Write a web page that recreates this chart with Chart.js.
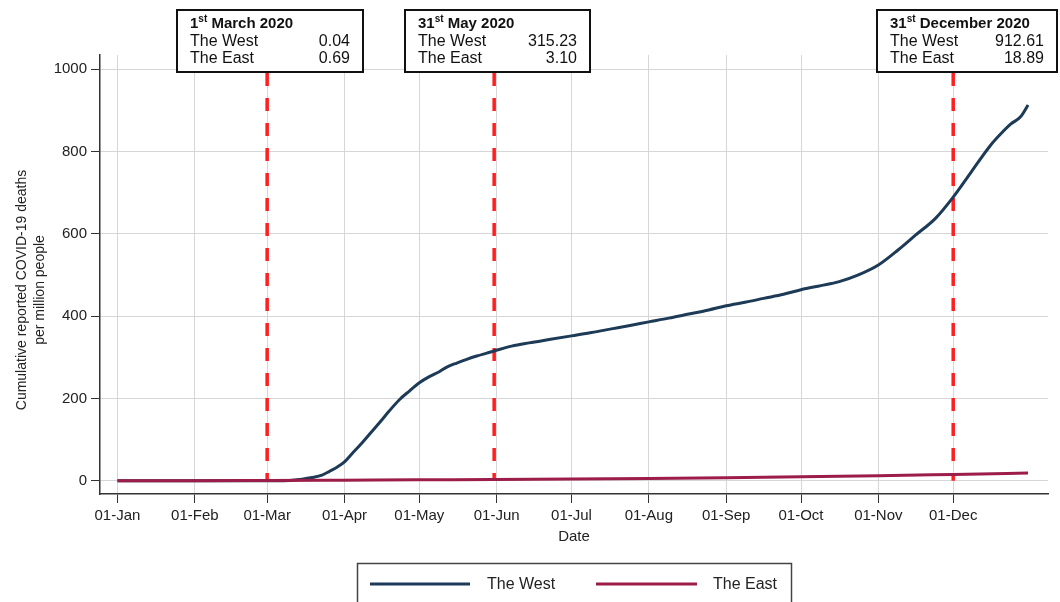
<!DOCTYPE html>
<html>
<head>
<meta charset="utf-8">
<title>Cumulative COVID-19 deaths</title>
<script src="https://cdn.jsdelivr.net/npm/chart.js@4.4.1/dist/chart.umd.min.js"></script>
<style>
  body { margin: 0; background: #fff; }
  canvas { display: block; }
</style>
</head>
<body>
<canvas id="grafico" width="1060" height="602"></canvas>
<script>
// dias contados a partir de 01-Jan-2020 (0 = 01-Jan)
const westDays = [0, 31, 60, 65, 70, 74, 78, 82, 85, 88, 91, 94, 98, 101, 105, 109, 113, 117, 121, 125, 129, 132, 136, 140, 144, 148, 151, 158, 165, 173, 182, 190, 198, 206, 213, 221, 229, 237, 244, 252, 259, 267, 274, 282, 289, 297, 305, 313, 320, 328, 335, 342, 350, 354, 358, 362, 365];
const westValues = [0, 0, 0.04, 0.3, 1.5, 4, 8, 14, 23, 33, 46, 66, 92, 113, 141, 170, 197, 218, 238, 253, 265, 276, 286, 295, 303, 310, 315.23, 327, 335, 343, 352, 360, 369, 378, 386, 395, 405, 415, 425, 434, 443, 453, 464, 474, 483, 500, 524, 561, 597, 638, 689, 748, 815, 842, 866, 884, 912.61];

const eastDays = [0, 31, 60, 90, 120, 151, 182, 213, 244, 274, 305, 335, 365];
const eastValues = [0, 0.1, 0.69, 1.5, 2.4, 3.10, 4.3, 5.8, 7.5, 9.6, 12.2, 15.5, 18.89];

const monthTicks = [0, 31, 60, 91, 121, 152, 182, 213, 244, 274, 305, 335];
const monthLabels = ['01-Jan', '01-Feb', '01-Mar', '01-Apr', '01-May', '01-Jun', '01-Jul', '01-Aug', '01-Sep', '01-Oct', '01-Nov', '01-Dec'];
const yTicks = [0, 200, 400, 600, 800, 1000];
const yTitle = ['Cumulative reported COVID-19 deaths', 'per million people'];

// linhas tracejadas e caixas
const eventDays = [60, 151, 335];
const eventTitles = [['1', 'st', ' March 2020'], ['31', 'st', ' May 2020'], ['31', 'st', ' December 2020']];
const eventWest = ['0.04', '315.23', '912.61'];
const eventEast = ['0.69', '3.10', '18.89'];

const seriesNames = ['The West', 'The East'];
const seriesColors = ['#1d3a57', '#9c1c4a'];

const fonte = '"Liberation Sans", Arial, sans-serif';

const toPoints = (days, vals) => days.map((d, i) => ({ x: d, y: vals[i] }));

// posição das caixas (esquerda, largura)
const caixas = [[177, 186], [405, 185], [877, 180]];

const anotacoes = {
    id: 'anotacoes',
    beforeDatasetsDraw(chart) {
        const { ctx, scales: { x, y } } = chart;
        ctx.save();
        ctx.strokeStyle = '#ff1f1f';
        ctx.lineWidth = 3.5;
        ctx.setLineDash([13, 12]);
        eventDays.forEach(d => {
            const px = x.getPixelForValue(d);
            ctx.beginPath();
            ctx.moveTo(px, 73);
            ctx.lineTo(px, y.getPixelForValue(0));
            ctx.stroke();
        });
        ctx.restore();
    },
    afterDraw(chart) {
        const { ctx } = chart;
        ctx.save();

        // título do eixo Y
        ctx.fillStyle = '#222';
        ctx.font = '14px ' + fonte;
        ctx.textAlign = 'center';
        ctx.textBaseline = 'middle';
        ctx.translate(22, 290);
        ctx.rotate(-Math.PI / 2);
        yTitle.forEach((linha, i) => ctx.fillText(linha, 0, i * 18));
        ctx.setTransform(1, 0, 0, 1, 0, 0);

        // caixas com valores
        const h = 62, top = 10;
        eventDays.forEach((d, i) => {
            const [left, w] = caixas[i];
            ctx.fillStyle = '#fff';
            ctx.fillRect(left, top, w, h);
            ctx.strokeStyle = '#111';
            ctx.lineWidth = 2;
            ctx.strokeRect(left, top, w, h);

            ctx.fillStyle = '#111';
            ctx.textAlign = 'left';
            ctx.textBaseline = 'alphabetic';
            let tx = left + 13;
            const t = eventTitles[i];
            ctx.font = 'bold 15px ' + fonte;
            ctx.fillText(t[0], tx, 28);
            tx += ctx.measureText(t[0]).width;
            ctx.font = 'bold 10px ' + fonte;
            ctx.fillText(t[1], tx, 22);
            tx += ctx.measureText(t[1]).width;
            ctx.font = 'bold 15px ' + fonte;
            ctx.fillText(t[2], tx, 28);

            ctx.font = '16px ' + fonte;
            ctx.fillText(seriesNames[0], left + 13, 46);
            ctx.fillText(seriesNames[1], left + 13, 63);
            ctx.textAlign = 'right';
            ctx.fillText(eventWest[i], left + w - 13, 46);
            ctx.fillText(eventEast[i], left + w - 13, 63);
        });

        // legenda
        ctx.strokeStyle = '#444';
        ctx.lineWidth = 1.5;
        ctx.strokeRect(357.5, 563.5, 434, 60);
        const itens = [{ x1: 370, x2: 470, tx: 487 }, { x1: 596, x2: 697, tx: 713 }];
        chart.data.datasets.forEach((ds, i) => {
            const it = itens[i];
            ctx.strokeStyle = ds.borderColor;
            ctx.lineWidth = 3;
            ctx.beginPath();
            ctx.moveTo(it.x1, 584);
            ctx.lineTo(it.x2, 584);
            ctx.stroke();
            ctx.fillStyle = '#222';
            ctx.font = '16px ' + fonte;
            ctx.textAlign = 'left';
            ctx.textBaseline = 'middle';
            ctx.fillText(ds.label, it.tx, 585);
        });
        ctx.restore();
    }
};

new Chart(document.getElementById('grafico'), {
    type: 'line',
    data: {
        datasets: [
            {
                label: seriesNames[0],
                data: toPoints(westDays, westValues),
                borderColor: seriesColors[0],
                borderWidth: 3,
                pointRadius: 0,
                cubicInterpolationMode: 'monotone',
                order: 1
            },
            {
                label: seriesNames[1],
                data: toPoints(eastDays, eastValues),
                borderColor: seriesColors[1],
                borderWidth: 3,
                pointRadius: 0,
                cubicInterpolationMode: 'monotone',
                order: 0
            }
        ]
    },
    options: {
        responsive: false,
        animation: false,
        devicePixelRatio: 1,
        layout: { padding: { left: 0, top: 55, right: 12, bottom: 54 } },
        plugins: {
            legend: { display: false },
            tooltip: { enabled: false }
        },
        scales: {
            x: {
                type: 'linear',
                min: -7,
                max: 373,
                afterBuildTicks: s => { s.ticks = monthTicks.map(v => ({ value: v })); },
                afterFit: s => { s.height = 54; },
                ticks: {
                    autoSkip: false,
                    maxRotation: 0,
                    padding: 4,
                    color: '#222',
                    font: { family: fonte, size: 15 },
                    callback: v => monthLabels[monthTicks.indexOf(v)]
                },
                grid: { color: '#d6d6d6', lineWidth: 1, tickLength: 9, tickColor: '#333' },
                border: { display: true, color: '#333', width: 1.5 },
                title: {
                    display: true,
                    text: 'Date',
                    color: '#222',
                    font: { family: fonte, size: 15 },
                    padding: { top: 0, bottom: 2 }
                }
            },
            y: {
                min: -32,
                max: 1034,
                afterBuildTicks: s => { s.ticks = yTicks.map(v => ({ value: v })); },
                afterFit: s => { s.width = 100; },
                ticks: {
                    padding: 4,
                    color: '#222',
                    font: { family: fonte, size: 15 },
                    callback: v => String(v)
                },
                grid: { color: '#d6d6d6', lineWidth: 1, tickLength: 9, tickColor: '#333' },
                border: { display: true, color: '#333', width: 1.5 }
            }
        }
    },
    plugins: [anotacoes]
});
</script>
</body>
</html>
